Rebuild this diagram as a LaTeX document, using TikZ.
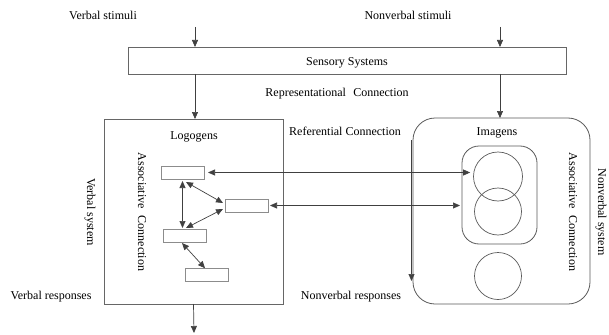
\documentclass[tikz,border=0pt]{standalone}
\usepackage{fontspec}
\setmainfont{Liberation Serif}
\usetikzlibrary{arrows.meta}
\begin{document}
\begin{tikzpicture}[x=1pt,y=-1pt,
  lbl/.style={font=\fontsize{12}{14}\selectfont, inner sep=0pt},
  frame/.style={draw=black!60, line width=0.8pt, inner sep=0pt, outer sep=0pt},
  cell/.style={frame, draw=black!45, minimum width=43pt, minimum height=13pt},
  arr/.style={draw=black!75, line width=0.7pt, -{Triangle[length=7pt,width=6pt]}},
  biarr/.style={draw=black!75, line width=0.7pt, {Triangle[length=7pt,width=6pt]}-{Triangle[length=7pt,width=6pt]}},
  ring/.style={circle, draw=black!65, line width=0.7pt, inner sep=0pt},
]
\useasboundingbox (0,0) rectangle (609,334);

% stimuli
\node[lbl] (vs) at (103,15) {Verbal stimuli};
\node[lbl] (ns) at (408,15) {Nonverbal stimuli};

% sensory systems
\node[frame, minimum width=438pt, minimum height=27pt] (sens) at (347,60.5) {};
\node[lbl] (senst) at (347,63) {Sensory Systems};
\coordinate (vs0) at (195,27);
\coordinate (ns0) at (500,27);
\draw[arr] (vs0) -- (vs0 |- sens.north);
\draw[arr] (ns0) -- (ns0 |- sens.north);

\node[lbl] (rep) at (337,94) {Representational\hspace{0.35em} Connection};

% verbal system
\node[frame, minimum width=179pt, minimum height=185pt] (logo) at (193.5,211.5) {};
\node[lbl] (logot) at (194,137) {Logogens};
\node[lbl, rotate=-90] (assl) at (142,212) {Associative\hspace{0.35em} Connection};
\node[lbl, rotate=-90] (vsys) at (90,212) {Verbal system};
\node[lbl] (vresp) at (51,297) {Verbal responses};

\node[cell] (r1) at (182.5,172.5) {};
\node[cell] (r2) at (246.5,205.5) {};
\node[cell] (r3) at (185,235.5) {};
\node[cell] (r4) at (207,275.2) {};

% nonverbal system
\node[frame, draw=black!65, rounded corners=22pt, minimum width=177pt, minimum height=186pt] (nv) at (501.5,211) {};
\node[lbl] (imt) at (497,133) {Imagens};
\node[frame, draw=black!65, rounded corners=17pt, minimum width=75pt, minimum height=98pt] (grp) at (499.5,195) {};
\node[ring, minimum size=49pt] (c1) at (498,176.5) {};
\node[ring, minimum size=47pt] (c2) at (498,211.5) {};
\node[ring, minimum size=47pt] (c3) at (498,276) {};
\node[lbl, rotate=-90] (assr) at (573,212) {Associative\hspace{0.35em} Connection};
\node[lbl, rotate=-90] (nsys) at (601,212) {Nonverbal system};
\node[lbl] (ref) at (345,131) {Referential Connection};
\node[lbl] (nresp) at (351,297) {Nonverbal responses};

% sensory systems to both systems
\draw[arr] (vs0 |- sens.south) -- (vs0 |- logo.north);
\draw[arr] (ns0 |- sens.south) -- (ns0 |- nv.north);

% associative links among logogens
\draw[biarr, shorten <=2pt, shorten >=1pt] (r1.south) -- (r1.south |- r3.north);
\draw[biarr] ([xshift=3.5pt,yshift=-3pt]r1.south) -- ([xshift=-2pt,yshift=2.5pt]r2.west);
\draw[biarr] ([xshift=1pt,yshift=1pt]r3.north) -- ([xshift=-2pt,yshift=-3.5pt]r2.west);
\draw[biarr] ([xshift=-3pt,yshift=-1pt]r3.south) -- ([xshift=-2pt,yshift=0.5pt]r4.north);

% referential links
\draw[biarr, shorten <=4pt, shorten >=3pt] (r1.east) -- (r1.east -| c1.west);
\draw[biarr, shorten <=2pt, shorten >=2pt] (r2.east) -- (r2.east -| grp.west);

% responses
\coordinate (vr) at (194,333);
\draw[arr] (logo.south) -- (vr);
\coordinate (nr0) at (411.5,140);
\coordinate (nr1) at (411.5,281);
\draw[arr] (nr0) -- (nr1);
\end{tikzpicture}
\end{document}
